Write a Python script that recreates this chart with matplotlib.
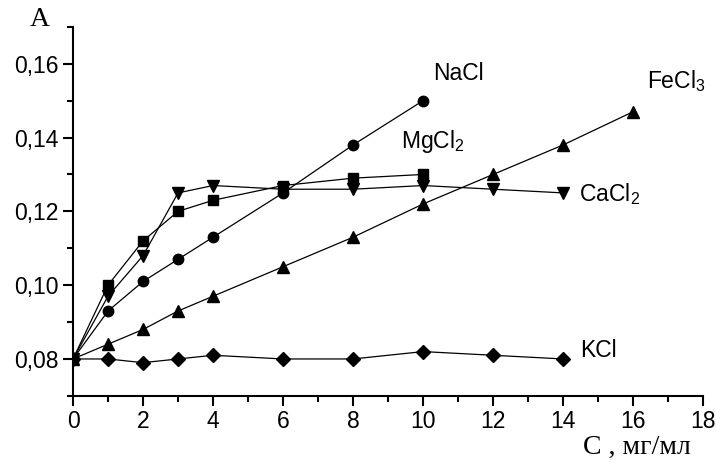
import matplotlib
matplotlib.use('Agg')
import matplotlib.pyplot as plt
from matplotlib.ticker import MultipleLocator, FuncFormatter

plt.rcParams['font.family'] = ['Liberation Sans', 'DejaVu Sans']
plt.rcParams['mathtext.fontset'] = 'custom'
plt.rcParams['mathtext.rm'] = 'Liberation Sans'
plt.rcParams['mathtext.it'] = 'Liberation Sans'

# data
x_nacl = [0, 1, 2, 3, 4, 6, 8, 10]
y_nacl = [0.080, 0.093, 0.101, 0.107, 0.113, 0.125, 0.138, 0.150]
x_mg = [0, 1, 2, 3, 4, 6, 8, 10]
y_mg = [0.080, 0.100, 0.112, 0.120, 0.123, 0.127, 0.129, 0.130]
x_ca = [0, 1, 2, 3, 4, 6, 8, 10, 12, 14]
y_ca = [0.080, 0.097, 0.108, 0.125, 0.127, 0.126, 0.126, 0.127, 0.126, 0.125]
x_fe = [0, 1, 2, 3, 4, 6, 8, 10, 12, 14, 16]
y_fe = [0.080, 0.084, 0.088, 0.093, 0.097, 0.105, 0.113, 0.122, 0.130, 0.138, 0.147]
x_k = [0, 1, 2, 3, 4, 6, 8, 10, 12, 14]
y_k = [0.080, 0.080, 0.079, 0.080, 0.081, 0.080, 0.080, 0.082, 0.081, 0.080]

fig = plt.figure(figsize=(7.16, 4.63), dpi=100)
ax = fig.add_axes([0.102, 0.145, 0.880, 0.797])

lw = 0.9
ax.plot(x_k, y_k, '-D', color='black', lw=lw, ms=7)
ax.plot(x_fe, y_fe, '-^', color='black', lw=lw, ms=8.5)
ax.plot(x_nacl, y_nacl, '-o', color='black', lw=lw, ms=7.5)
ax.plot(x_mg, y_mg, '-s', color='black', lw=lw, ms=7)
ax.plot(x_ca, y_ca, '-v', color='black', lw=lw, ms=8.5)

fs = 16.5
ax.text(10.3, 0.1573, 'NaCl', fontsize=fs, va='center')
ax.text(9.37, 0.139, 'MgCl$_2$', fontsize=fs, va='center')
ax.text(16.4, 0.1552, 'FeCl$_3$', fontsize=fs, va='center')
ax.text(14.46, 0.1248, 'CaCl$_2$', fontsize=fs, va='center')
ax.text(14.5, 0.0824, 'KCl', fontsize=fs, va='center')

ax.set_xlim(0, 18)
ax.set_ylim(0.07, 0.17)
ax.xaxis.set_major_locator(MultipleLocator(2))
ax.xaxis.set_minor_locator(MultipleLocator(1))
ax.yaxis.set_major_locator(MultipleLocator(0.02))
ax.yaxis.set_minor_locator(MultipleLocator(0.01))
ax.yaxis.set_major_formatter(FuncFormatter(lambda v, p: ('%.2f' % v).replace('.', ',')))

for s in ['top', 'right']:
    ax.spines[s].set_visible(False)
for s in ['left', 'bottom']:
    ax.spines[s].set_linewidth(1.5)
ax.tick_params(which='major', direction='out', length=7, width=1.5, labelsize=fs)
ax.tick_params(which='minor', direction='out', length=4, width=1.5)

fig.text(0.055, 0.957, 'A', fontsize=20, family='Liberation Serif', ha='center', va='center')
fig.text(0.89, 0.034, 'C , мг/мл', fontsize=20, family='Liberation Serif',
         ha='center', va='center')

fig.savefig('out.png')
